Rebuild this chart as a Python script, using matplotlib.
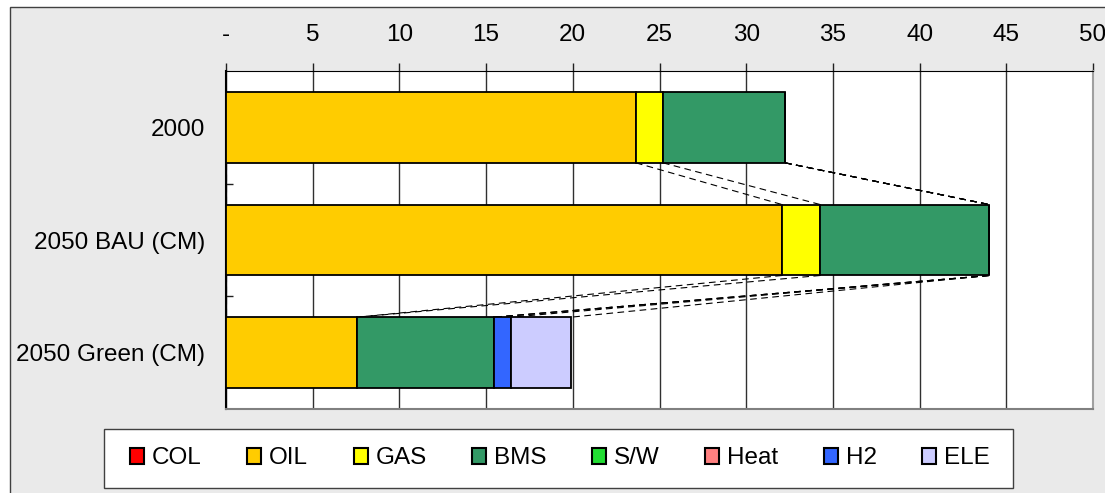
import numpy as np
import matplotlib.pyplot as plt
from matplotlib.patches import Rectangle, Patch

plt.rcParams["font.family"] = ["Liberation Sans", "DejaVu Sans"]

categories = ["2000", "2050 BAU (CM)", "2050 Green (CM)"]
series_names = ["COL", "OIL", "GAS", "BMS", "S/W", "Heat", "H2", "ELE"]
col = [0.0, 0.0, 0.0]
oil = [23.64, 32.06, 7.55]
gas = [1.56, 2.2, 0.0]
bms = [7.04, 9.74, 7.91]
sw = [0.0, 0.0, 0.0]
heat = [0.0, 0.0, 0.0]
h2 = [0.0, 0.0, 0.98]
ele = [0.0, 0.0, 3.46]
colors = ["#FF0000", "#FFCC00", "#FFFF00", "#339966",
          "#22DD33", "#FF8080", "#3366FF", "#CCCCFF"]
x_ticks = [0, 5, 10, 15, 20, 25, 30, 35, 40, 45, 50]
x_ticklabels = ["-", "5", "10", "15", "20", "25", "30", "35", "40", "45", "50"]

values = np.array([col, oil, gas, bms, sw, heat, h2, ele])
W, H = 1105, 493
FS = 17.5
fig = plt.figure(figsize=(W / 100, H / 100), dpi=100, facecolor="white")

# chart area frame
fig.patches.append(Rectangle((10 / W, -0.05), 1.2, 1 - 7 / H + 0.05,
                             transform=fig.transFigure, facecolor="#EAEAEA",
                             edgecolor="#404040", linewidth=1, zorder=-5))
# legend frame
fig.patches.append(Rectangle((104 / W, 1 - 488 / H), 909 / W, 59 / H,
                             transform=fig.transFigure, facecolor="white",
                             edgecolor="#404040", linewidth=1, zorder=-4))

ax = fig.add_axes([226 / W, 1 - 409 / H, (1093 - 226) / W, (409 - 71) / H])
ax.set_facecolor("white")

y = np.arange(len(categories))
bar_h = 0.63
left = np.zeros(len(categories))
ends = []
for name, vals, c in zip(series_names, values, colors):
    ax.barh(y, vals, left=left, height=bar_h, color=c, edgecolor="black",
            linewidth=1.3, zorder=3)
    left = left + vals
    ends.append(left.copy())

# series lines between consecutive bars
for e in ends:
    for i in range(len(categories) - 1):
        ax.plot([e[i], e[i + 1]], [i + bar_h / 2, i + 1 - bar_h / 2],
                color="black", linewidth=0.8, linestyle=(0, (6, 4)), zorder=2)

ax.set_xlim(0, 50)
ax.set_ylim(2.5, -0.5)
ax.xaxis.tick_top()
ax.set_xticks(x_ticks)
ax.set_xticklabels(x_ticklabels)
ax.tick_params(axis="x", direction="out", length=6, width=1, color="#202020",
               pad=12, labelsize=FS)
ax.set_yticks(y)
ax.set_yticklabels(categories)
ax.tick_params(axis="y", which="major", length=0, pad=15, labelsize=FS)
ax.set_yticks([0.5, 1.5], minor=True)
ax.tick_params(axis="y", which="minor", direction="in", length=5, width=1,
               color="#202020")
ax.grid(axis="x", color="#303030", linewidth=1, zorder=1)
ax.set_axisbelow(True)

ax.spines["top"].set_color("black")
ax.spines["left"].set_color("black")
ax.spines["left"].set_linewidth(1.5)
ax.spines["bottom"].set_color("#808080")
ax.spines["bottom"].set_linewidth(1.5)
ax.spines["right"].set_color("#A0A0A0")
ax.spines["right"].set_linewidth(1.5)

handles = [Patch(facecolor=c, edgecolor="black", linewidth=1.5) for c in colors]
leg = fig.legend(handles, series_names, loc="center", ncol=8, mode="expand",
                 bbox_to_anchor=(130 / W, 1 - 488 / H, 860 / W, 59 / H),
                 bbox_transform=fig.transFigure, fontsize=FS, frameon=False,
                 handlelength=0.58, handleheight=0.62, handletextpad=0.33,
                 borderaxespad=0, borderpad=0, columnspacing=0.5)

fig.savefig("out.png", dpi=100, facecolor=fig.get_facecolor())
